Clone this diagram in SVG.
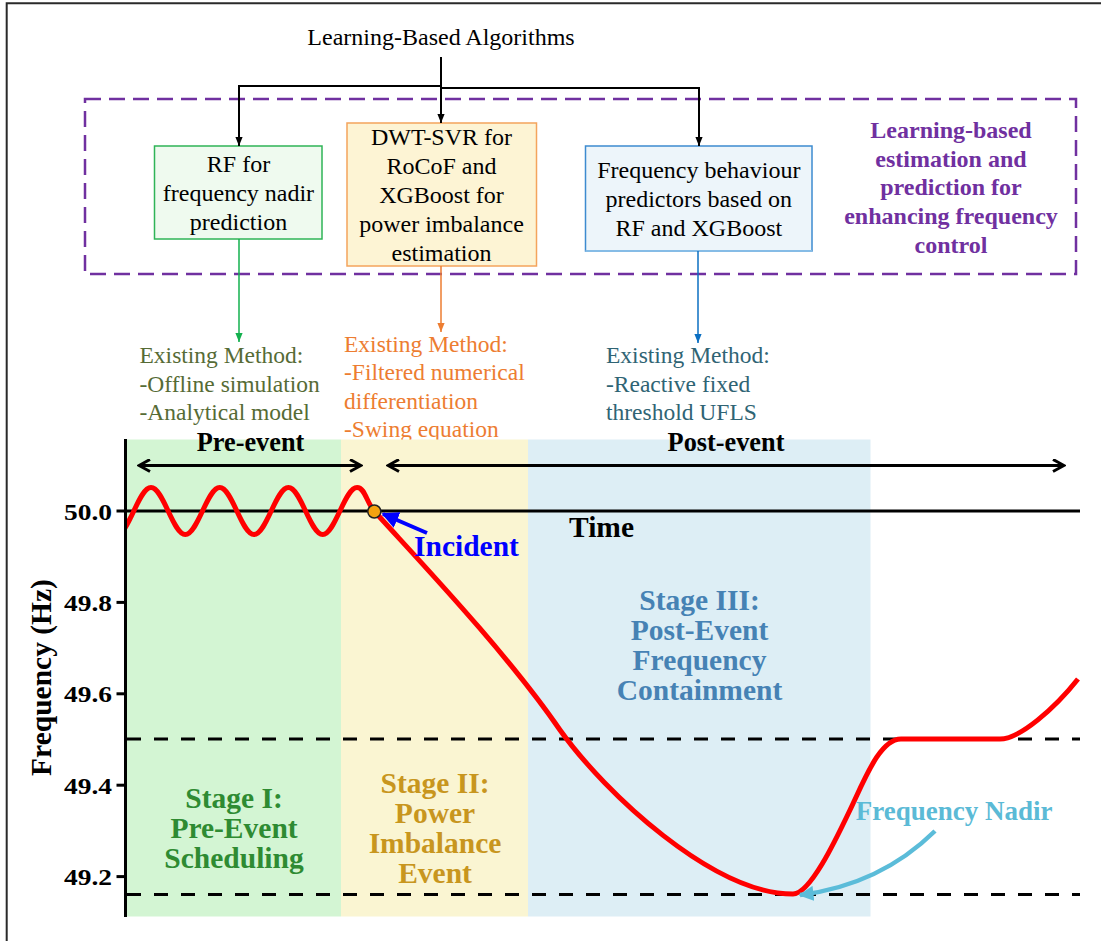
<svg xmlns="http://www.w3.org/2000/svg" width="1101" height="941" viewBox="0 0 1101 941">
  <style>
    .serif { font-family: "Liberation Serif", "Times New Roman", serif; }
    .box-text { font-family: "Liberation Serif", "Times New Roman", serif; font-size: 24px; fill: #000; text-anchor: middle; }
    .purple { font-family: "Liberation Serif", "Times New Roman", serif; font-size: 24px; font-weight: bold; fill: #7030a0; text-anchor: middle; }
    .exist { font-family: "Liberation Serif", "Times New Roman", serif; font-size: 23.5px; }
    .bold { font-family: "Liberation Serif", "Times New Roman", serif; font-weight: bold; }
    .stage { font-family: "Liberation Serif", "Times New Roman", serif; font-weight: bold; font-size: 29.5px; text-anchor: middle; }
    .tick { font-family: "Liberation Serif", "Times New Roman", serif; font-weight: bold; font-size: 24px; }
    .conn { fill: none; stroke: #000; stroke-width: 2; }
    .span { fill: none; stroke: #000; stroke-width: 3; }
    .limit { fill: none; stroke: #000; stroke-width: 3; stroke-dasharray: 14 13; }
  </style>
  <defs>
    <marker id="ah-black" viewBox="0 0 10 10" refX="10" refY="5" markerWidth="9" markerHeight="9" markerUnits="userSpaceOnUse" orient="auto">
      <path d="M0,1 L10,5 L0,9 Z" fill="#000"/>
    </marker>
    <marker id="ah-green" viewBox="0 0 10 10" refX="10" refY="5" markerWidth="9" markerHeight="9" markerUnits="userSpaceOnUse" orient="auto">
      <path d="M0,1 L10,5 L0,9 Z" fill="#13b04e"/>
    </marker>
    <marker id="ah-orange" viewBox="0 0 10 10" refX="10" refY="5" markerWidth="9" markerHeight="9" markerUnits="userSpaceOnUse" orient="auto">
      <path d="M0,1 L10,5 L0,9 Z" fill="#ed7d31"/>
    </marker>
    <marker id="ah-blue" viewBox="0 0 10 10" refX="10" refY="5" markerWidth="9" markerHeight="9" markerUnits="userSpaceOnUse" orient="auto">
      <path d="M0,1 L10,5 L0,9 Z" fill="#0b6fc2"/>
    </marker>
    <marker id="chev" viewBox="0 0 14 14" refX="12" refY="7" markerWidth="14" markerHeight="14" markerUnits="userSpaceOnUse" orient="auto-start-reverse">
      <path d="M1,1 L12,7 L1,13" fill="none" stroke="#000" stroke-width="3" stroke-linejoin="miter"/>
    </marker>
    <marker id="ah-incident" viewBox="0 0 10 10" refX="9" refY="5" markerWidth="17" markerHeight="17" markerUnits="userSpaceOnUse" orient="auto">
      <path d="M0,0 L10,5 L0,10 Z" fill="#0000ff"/>
    </marker>
    <marker id="ah-nadir" viewBox="0 0 10 10" refX="9" refY="5" markerWidth="15" markerHeight="15" markerUnits="userSpaceOnUse" orient="auto">
      <path d="M0,0 L10,5 L0,10 Z" fill="#5bbcd9"/>
    </marker>
    <clipPath id="plot-clip">
      <rect x="127" y="430" width="960" height="490"/>
    </clipPath>
  </defs>

  <rect x="0" y="0" width="1101" height="941" fill="#fff"/>
  <!-- outer frame (left and top edges) -->
  <path d="M6.7,941 V3.3 H1101" fill="none" stroke="#2a2a2a" stroke-width="2"/>

  <!-- title -->
  <g id="title">
    <text class="box-text" x="441" y="45">Learning-Based Algorithms</text>
  </g>

  <!-- dashed container for learning-based methods -->
  <g id="learning-group">
    <rect x="85" y="99" width="991" height="175" fill="none" stroke="#7030a0" stroke-width="2.5" stroke-dasharray="16 8"/>
    <text class="purple" x="951" y="138">Learning-based</text>
    <text class="purple" x="951" y="166.7">estimation and</text>
    <text class="purple" x="951" y="195.4">prediction for</text>
    <text class="purple" x="951" y="224.1">enhancing frequency</text>
    <text class="purple" x="951" y="252.8">control</text>
  </g>

  <g id="node-rf">
    <rect x="154.5" y="146" width="167.5" height="93" fill="#effaef" stroke="#2fb457" stroke-width="1.5"/>
    <text class="box-text" x="238.5" y="171.5">RF for</text>
    <text class="box-text" x="238.5" y="200.5">frequency nadir</text>
    <text class="box-text" x="238.5" y="229.5">prediction</text>
  </g>

  <g id="node-dwt-svr">
    <rect x="347" y="123" width="189.5" height="143" fill="#fdf4d4" stroke="#f4a45c" stroke-width="1.5"/>
    <text class="box-text" x="441.5" y="145">DWT-SVR for</text>
    <text class="box-text" x="441.5" y="174">RoCoF and</text>
    <text class="box-text" x="441.5" y="203">XGBoost for</text>
    <text class="box-text" x="441.5" y="232">power imbalance</text>
    <text class="box-text" x="441.5" y="261">estimation</text>
  </g>

  <g id="node-predictors">
    <rect x="585.5" y="146" width="226.5" height="105" fill="#edf5fa" stroke="#3d8bd0" stroke-width="1.5"/>
    <line x1="585.5" y1="251" x2="812" y2="251" stroke="#86bce6" stroke-width="2"/>
    <text class="box-text" x="698.8" y="178">Frequency behaviour</text>
    <text class="box-text" x="698.8" y="207">predictors based on</text>
    <text class="box-text" x="698.8" y="236">RF and XGBoost</text>
  </g>

  <g id="existing-offline" class="exist" fill="#566b35">
    <text x="139.5" y="363">Existing Method:</text>
    <text x="139.5" y="391.5">-Offline simulation</text>
    <text x="139.5" y="420">-Analytical model</text>
  </g>

  <g id="existing-numerical" class="exist" fill="#ed7d31">
    <text x="344" y="351.5">Existing Method:</text>
    <text x="344" y="380">-Filtered numerical</text>
    <text x="344" y="408.5">differentiation</text>
    <text x="344" y="437">-Swing equation</text>
  </g>

  <g id="existing-ufls" class="exist" fill="#2f6474">
    <text x="606" y="363">Existing Method:</text>
    <text x="606" y="391.5">-Reactive fixed</text>
    <text x="606" y="420">threshold UFLS</text>
  </g>

  <!-- connectors -->
  <g id="connectors">
    <path class="conn" d="M441,57 V86 H239 V146" marker-end="url(#ah-black)"/>
    <path class="conn" d="M441,86 V123" marker-end="url(#ah-black)"/>
    <path class="conn" d="M441,88 H699 V146" marker-end="url(#ah-black)"/>
    <path d="M239,239 V342" fill="none" stroke="#13b04e" stroke-width="1.5" marker-end="url(#ah-green)"/>
    <path d="M441,266 V332" fill="none" stroke="#ed7d31" stroke-width="1.5" marker-end="url(#ah-orange)"/>
    <path d="M698,251 V343" fill="none" stroke="#0b6fc2" stroke-width="1.5" marker-end="url(#ah-blue)"/>
  </g>

  <!-- frequency response chart -->
  <g id="chart">
    <!-- stage backgrounds -->
    <rect x="127" y="439.5" width="214" height="477" fill="#d3f5d3"/>
    <rect x="341" y="439.5" width="187" height="477" fill="#faf5d2"/>
    <rect x="528" y="439.5" width="342.5" height="477" fill="#ddeef5"/>

    <!-- UFLS threshold and nadir levels -->
    <line class="limit" x1="127" y1="739" x2="1080" y2="739"/>
    <line class="limit" x1="127" y1="894.5" x2="1080" y2="894.5"/>

    <!-- nominal 50 Hz line (time axis) -->
    <line x1="126" y1="511" x2="1080" y2="511" stroke="#000" stroke-width="3"/>

    <!-- frequency axis and ticks -->
    <line x1="125.5" y1="439" x2="125.5" y2="917" stroke="#000" stroke-width="3"/>
    <g stroke="#000" stroke-width="3">
      <line x1="116.5" y1="511" x2="126" y2="511"/>
      <line x1="116.5" y1="602.4" x2="126" y2="602.4"/>
      <line x1="116.5" y1="693.8" x2="126" y2="693.8"/>
      <line x1="116.5" y1="785.2" x2="126" y2="785.2"/>
      <line x1="116.5" y1="876.6" x2="126" y2="876.6"/>
    </g>
    <text class="tick" x="64" y="519.5" textLength="48" lengthAdjust="spacingAndGlyphs">50.0</text>
    <text class="tick" x="64" y="610.9" textLength="48" lengthAdjust="spacingAndGlyphs">49.8</text>
    <text class="tick" x="64" y="702.3" textLength="48" lengthAdjust="spacingAndGlyphs">49.6</text>
    <text class="tick" x="64" y="793.7" textLength="48" lengthAdjust="spacingAndGlyphs">49.4</text>
    <text class="tick" x="64" y="885.1" textLength="48" lengthAdjust="spacingAndGlyphs">49.2</text>
    <text class="bold" font-size="29.5" text-anchor="middle" transform="translate(51,677.5) rotate(-90)">Frequency (Hz)</text>
    <text class="bold" font-size="29.5" x="569" y="537">Time</text>

    <!-- pre/post event spans -->
    <line class="span" x1="139" y1="465.5" x2="361" y2="465.5" marker-start="url(#chev)" marker-end="url(#chev)"/>
    <line class="span" x1="388" y1="465.5" x2="1064" y2="465.5" marker-start="url(#chev)" marker-end="url(#chev)"/>
    <text class="bold" font-size="26.3" text-anchor="middle" x="250.5" y="450.5">Pre-event</text>
    <text class="bold" font-size="26.3" text-anchor="middle" x="726" y="450.5">Post-event</text>

    <!-- frequency trajectory -->
    <path clip-path="url(#plot-clip)" fill="none" stroke="#ff0000" stroke-width="5" stroke-linejoin="round"
      d="M116.6,534.5 C129.1,534.5 138.5,487.5 151,487.5
         C163.5,487.5 172.8,534.5 185.3,534.5
         C197.8,534.5 207.2,487.5 219.7,487.5
         C232.2,487.5 241.5,534.5 254,534.5
         C266.5,534.5 275.9,487.5 288.4,487.5
         C300.9,487.5 310.2,534.5 322.7,534.5
         C335.2,534.5 344.6,487.5 357.1,487.5
         C365.1,487.5 366.2,502.1 374.2,511
         C410,551 505,650 560,730
         C605,793 713,894 793,894
         C810,894 835,841.5 850,810
         C865,778.5 880,739 901,739
         L1000,739
         C1020,739 1055,708 1078,679"/>

    <!-- incident marker -->
    <circle cx="374.3" cy="511.5" r="6.5" fill="#f5a20f" stroke="#222" stroke-width="1.5"/>
    <line x1="427" y1="533" x2="383" y2="514" stroke="#0000ff" stroke-width="4" marker-end="url(#ah-incident)"/>
    <text class="bold" font-size="29.5" fill="#0000ff" x="414" y="556">Incident</text>

    <!-- nadir annotation -->
    <path d="M935,831 Q880,885 800,895" fill="none" stroke="#5bbcd9" stroke-width="4.5" marker-end="url(#ah-nadir)"/>
    <text class="bold" font-size="27" fill="#5bbad6" x="855.7" y="819.5">Frequency Nadir</text>

    <!-- stage labels -->
    <g class="stage" fill="#2e8b32">
      <text x="234" y="808">Stage I:</text>
      <text x="234" y="838">Pre-Event</text>
      <text x="234" y="868">Scheduling</text>
    </g>
    <g class="stage" fill="#c8961e">
      <text x="435" y="793">Stage II:</text>
      <text x="435" y="823">Power</text>
      <text x="435" y="853">Imbalance</text>
      <text x="435" y="883">Event</text>
    </g>
    <g class="stage" fill="#4682b4">
      <text x="699.5" y="609.5">Stage III:</text>
      <text x="699.5" y="639.5">Post-Event</text>
      <text x="699.5" y="669.5">Frequency</text>
      <text x="699.5" y="699.5">Containment</text>
    </g>
  </g>
</svg>
